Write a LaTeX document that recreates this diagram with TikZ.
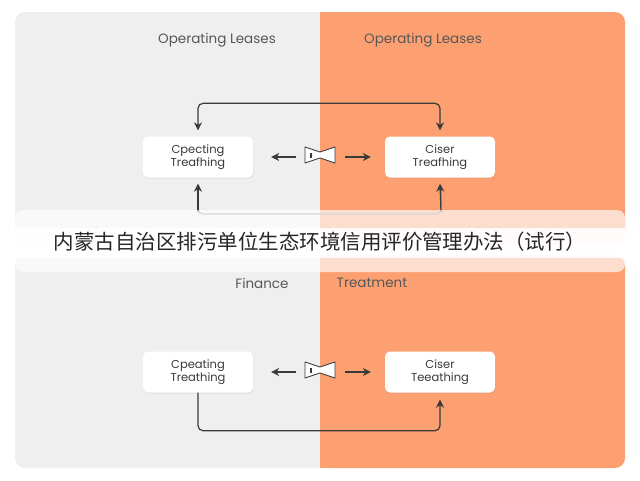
\documentclass[tikz,border=0pt]{standalone}
\usepackage{fontspec}
\setmainfont{Poppins}
\newfontfamily\cjk{Noto Sans CJK SC}
\usetikzlibrary{shadows,arrows.meta}
\definecolor{pg}{HTML}{EFEFEF}
\definecolor{po}{HTML}{FCA071}
\definecolor{ink}{HTML}{3A3A3A}
\begin{document}
\begin{tikzpicture}[x=1pt,y=-1pt,
  box/.style={draw=none,fill=white,rounded corners=5pt,minimum width=110pt,minimum height=41pt,align=center,font=\fontsize{11.5}{13}\selectfont,text=ink,drop shadow={shadow xshift=0.5pt,shadow yshift=-1pt,opacity=0.15}},
  ttl/.style={font=\fontsize{13.5}{15}\selectfont,text=ink!85},
  tip/.style={-{Stealth[length=8pt,width=8pt]}},
  con/.style={draw=ink,line width=1.2pt,rounded corners=5pt,tip},
  ret/.style={draw=ink!60,line width=1.2pt,rounded corners=5pt}]
\useasboundingbox (0,0) rectangle (640,480);
\fill[white] (0,0) rectangle (640,480);
% top panels
\fill[pg,rounded corners=10pt] (15,12) rectangle (330,245);
\fill[po,rounded corners=10pt] (320,12) rectangle (625,245);
\fill[po] (320,12) rectangle (330,245);
% bottom panels
\fill[pg,rounded corners=10pt] (15,255) rectangle (330,468);
\fill[po,rounded corners=10pt] (320,255) rectangle (625,468);
\fill[po] (320,255) rectangle (330,468);
\node[ttl] (t1) at (217,40) {Operating Leases};
\node[ttl] (t2) at (423,40) {Operating Leases};
\node[ttl] (t3) at (262,283) {Finance};
\node[ttl] (t4) at (372,283) {Treatment};
% boxes
\node[box] (a) at (198,157) {Cpecting\\Treafhing};
\node[box] (b) at (440,157) {Ciser\\Treafhing};
\node[box] (c) at (198,372) {Cpeating\\Treathing};
\node[box] (d) at (440,372) {Ciser\\Teeathing};
\coordinate (ia) at (320,155);
\coordinate (ib) at (320,370);
\foreach \p in {ia,ib}{
  \draw[ink,line width=0.9pt,fill=white,line join=round] ([shift={(-15,-8)}]\p) -- ([shift={(0,-3)}]\p) -- ([shift={(15,-8)}]\p) -- ([shift={(15,8)}]\p) -- ([shift={(0,3)}]\p) -- ([shift={(-15,8)}]\p) -- cycle;
  \draw[ink,line width=1.2pt] ([shift={(-9,-2)}]\p) -- ([shift={(-9,3)}]\p);
}
\coordinate (l1) at (296,157); \coordinate (r1) at (345,157);
\coordinate (l2) at (296,372); \coordinate (r2) at (345,372);
\draw[con] (l1) -- ([xshift=18pt]a.east);
\draw[con] (r1) -- ([xshift=-14pt]b.west);
\draw[con] (l2) -- ([xshift=18pt]c.east);
\draw[con] (r2) -- ([xshift=-14pt]d.west);
% top loop
\draw[con,{Stealth[length=8pt,width=8pt]}-{Stealth[length=8pt,width=8pt]}] ([yshift=6pt]a.north) -- ++(0,-27) -| ([yshift=6pt]b.north);
% return loop (under band)
\draw[ret] (198,186) |- (441,214) -- (441,186);
\coordinate (u1) at (198,212); \coordinate (u2) at (441,212);
\draw[con] (u1) -- ([yshift=-6pt]a.south);
\draw[con] (u2) -- ([yshift=-6pt]b.south);
% band
\fill[white,opacity=0.65,rounded corners=8pt] (15,210) rectangle (625,272);
\fill[white,opacity=0.9] (0,228) rectangle (640,258);
\node[font=\cjk\fontsize{20.5}{22}\selectfont,text=black!85] (cn) at (320,242) {内蒙古自治区排污单位生态环境信用评价管理办法（试行）};
% bottom loop
\draw[con] (c.south) -- ++(0,38) -| ([yshift=-7pt]d.south);
\end{tikzpicture}
\end{document}
